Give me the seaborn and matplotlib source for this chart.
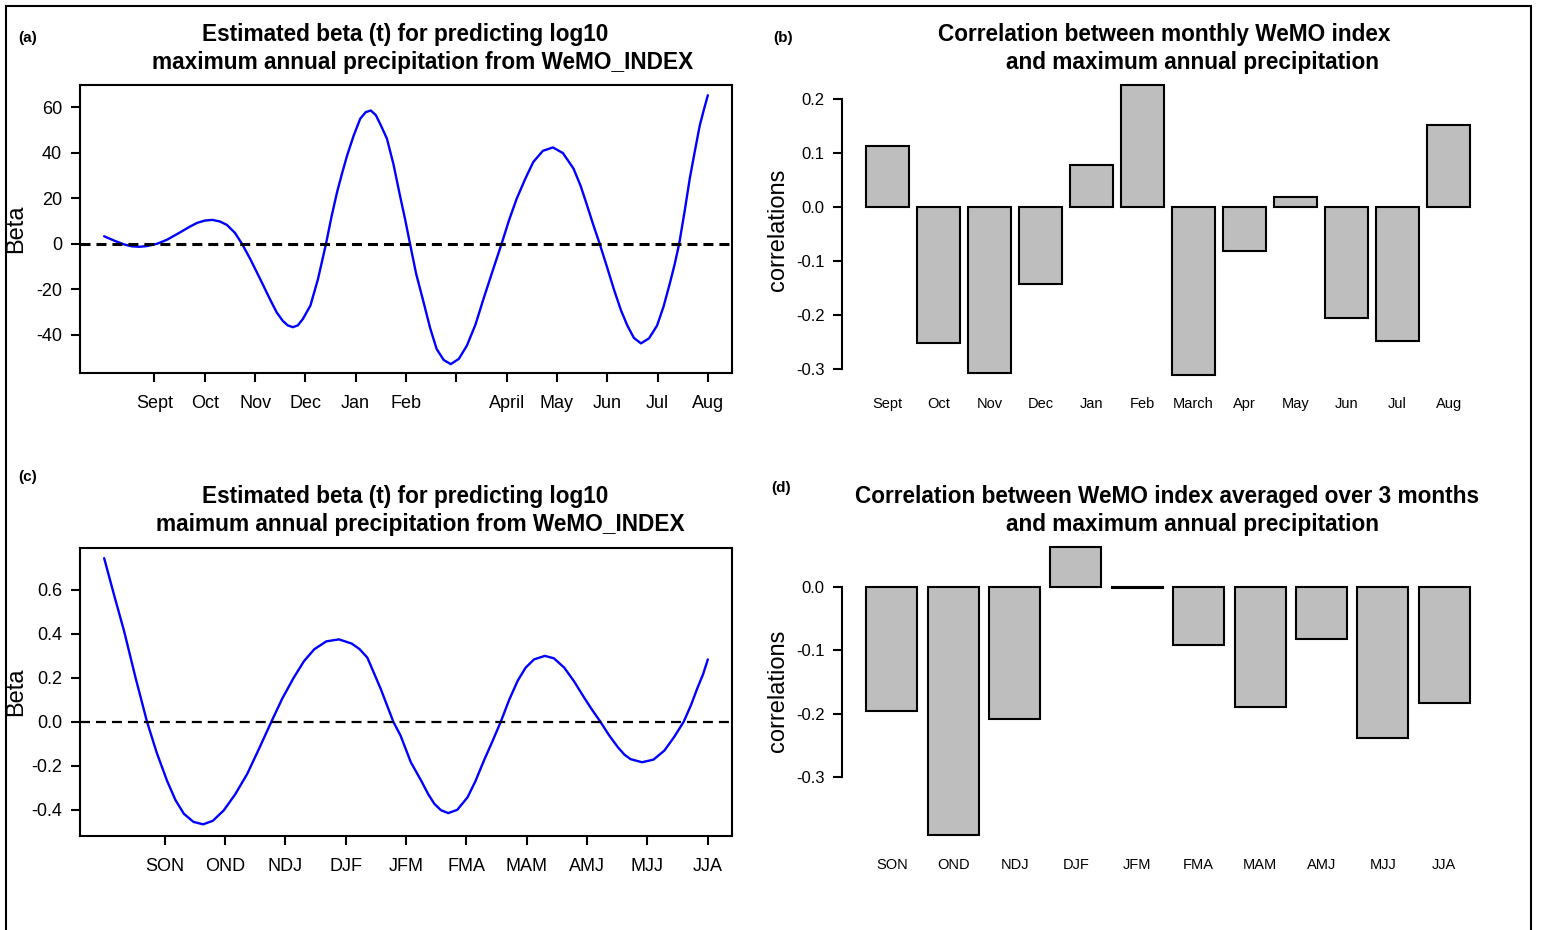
import seaborn as sns
import matplotlib.pyplot as plt
from matplotlib.patches import Rectangle

# --- data ---
# (a) estimated beta(t), monthly index (x: 0 = start, 1 = Sept ... 12 = Aug)
beta_month_x = [0.0, 0.2, 0.4, 0.55, 0.7, 0.85, 1.05, 1.25, 1.5, 1.7, 1.85, 2.0,
                2.15, 2.3, 2.44, 2.6, 2.74,
                2.9, 3.1, 3.3, 3.43, 3.55, 3.65, 3.75, 3.85, 3.95, 4.1, 4.25, 4.41,
                4.52, 4.63, 4.73, 4.83, 4.96, 5.09, 5.2, 5.3, 5.4, 5.5, 5.62, 5.75,
                5.88, 5.98, 6.08,
                6.2, 6.35, 6.48, 6.61, 6.75, 6.89, 7.05, 7.21, 7.38, 7.54, 7.72, 7.9,
                8.05, 8.2, 8.37, 8.53, 8.72, 8.92, 9.12, 9.33, 9.47, 9.6, 9.72, 9.85,
                10.0, 10.13, 10.27, 10.4, 10.53, 10.67, 10.83, 10.99, 11.12, 11.25,
                11.34, 11.43, 11.54, 11.64, 11.74, 11.84, 11.92, 12.0]
beta_month = [3.3, 1.4, -0.3, -1.1, -1.3, -1.0, 0.0, 1.8, 4.9, 7.5, 9.2, 10.2,
              10.5, 9.8, 8.3, 4.8, 0.0,
              -6.5, -15.4, -24.5, -30.1, -33.8, -35.8, -36.6, -35.8, -33.0, -27.1,
              -15.5, 0.0,
              12.0, 22.7, 31.0, 38.8, 47.5, 54.9, 57.8, 58.5, 56.5, 52.0, 46.2, 35.0,
              21.2, 11.0, 0.0,
              -13.0, -25.7, -37.0, -46.2, -51.0, -52.8, -50.5, -44.7, -35.5, -24.2,
              -12.0, 0.0,
              10.5, 19.8, 28.5, 35.9, 40.8, 42.3, 39.8, 33.0, 25.5, 16.8, 8.5, 0.0,
              -10.5, -19.8, -29.0, -35.9, -41.3, -43.7, -41.5, -35.9, -27.5, -16.9,
              -9.0, 0.0, 14.5, 28.6, 40.5, 52.0, 58.8, 65.2]
month_ticks = ['Sept', 'Oct', 'Nov', 'Dec', 'Jan', 'Feb', '', 'April',
               'May', 'Jun', 'Jul', 'Aug']

# (b) monthly correlations
months_b = ['Sept', 'Oct', 'Nov', 'Dec', 'Jan', 'Feb', 'March', 'Apr',
            'May', 'Jun', 'Jul', 'Aug']
corr_month = [0.113, -0.252, -0.307, -0.143, 0.077, 0.225, -0.310, -0.082,
              0.019, -0.205, -0.248, 0.152]

# (c) estimated beta(t), 3-month averaged index (x: 1 = SON ... 10 = JJA)
beta_season_x = [0.0, 0.16, 0.33, 0.52, 0.71, 0.87, 1.04, 1.18, 1.32, 1.48, 1.64,
                 1.8, 1.98, 2.17, 2.37, 2.57, 2.77, 2.95, 3.14, 3.31, 3.48, 3.68,
                 3.89, 4.1, 4.23, 4.36, 4.58, 4.79, 4.91, 5.08, 5.25, 5.37, 5.47,
                 5.58, 5.7, 5.85, 6.02, 6.15, 6.29, 6.43, 6.57, 6.71, 6.85, 6.98,
                 7.12, 7.3, 7.45, 7.62, 7.78, 7.95, 8.08, 8.22, 8.36, 8.51, 8.62,
                 8.72, 8.91, 9.1, 9.28, 9.44, 9.6, 9.72, 9.83, 9.92, 10.0]
beta_season = [0.743, 0.58, 0.412, 0.2, 0.0, -0.14, -0.267, -0.355, -0.418, -0.455,
               -0.466, -0.45, -0.403, -0.33, -0.237, -0.12, 0.0, 0.105, 0.2, 0.275,
               0.329, 0.365, 0.374, 0.355, 0.33, 0.291, 0.15, 0.0, -0.063, -0.184,
               -0.267, -0.33, -0.373, -0.402, -0.415, -0.4, -0.343, -0.27, -0.177,
               -0.09, 0.0, 0.1, 0.186, 0.245, 0.283, 0.299, 0.288, 0.246, 0.185,
               0.11, 0.055, 0.0, -0.06, -0.116, -0.15, -0.17, -0.184, -0.172,
               -0.131, -0.07, 0.0, 0.075, 0.155, 0.215, 0.283]
seasons = ['SON', 'OND', 'NDJ', 'DJF', 'JFM', 'FMA', 'MAM', 'AMJ', 'MJJ', 'JJA']

# (d) 3-month correlations
corr_season = [-0.196, -0.392, -0.209, 0.063, -0.002, -0.091, -0.189, -0.082,
               -0.238, -0.184]

# --- style ---
sns.set_theme(style='ticks')
plt.rcParams.update({
    'font.family': ['Liberation Sans', 'DejaVu Sans'],
    'axes.unicode_minus': False,
    'axes.edgecolor': 'black',
    'axes.linewidth': 1.5,
    'xtick.color': 'black', 'ytick.color': 'black',
    'xtick.major.width': 1.5, 'ytick.major.width': 1.5,
    'xtick.major.size': 6.5, 'ytick.major.size': 6.5,
    'text.color': 'black', 'axes.labelcolor': 'black',
    'figure.facecolor': 'white', 'axes.facecolor': 'white',
})

W, H = 1541, 930
fig = plt.figure(figsize=(W / 100, H / 100), dpi=100)


def add_ax(l, t, r, b):
    return fig.add_axes([l / W, 1 - b / H, (r - l) / W, (b - t) / H])


def title(x, y, s, **kw):
    fig.text(x / W, 1 - y / H, s, ha='center', va='center', **kw)


def curve_panel(ax, x, y, ticks, labels, xlim, ylim, yticks, yfmt, dash_lw):
    sns.lineplot(x=x, y=y, ax=ax, color='#0000FF', lw=1.7, errorbar=None)
    ax.axhline(0, color='black', lw=dash_lw, ls=(0, (7.2 / dash_lw, 4.3 / dash_lw)))
    ax.set_xlim(*xlim)
    ax.set_ylim(*ylim)
    ax.set_xticks(ticks)
    ax.set_xticklabels(labels)
    ax.set_yticks(yticks)
    ax.set_yticklabels([yfmt.format(v) for v in yticks])
    ax.tick_params(axis='x', labelsize=13, pad=9.5)
    ax.tick_params(axis='y', labelsize=13, pad=6.5)
    ax.set_ylabel('Beta', fontsize=17)
    ax.yaxis.set_label_coords(-0.098, 0.5)
    ax.yaxis.label.set_va('center')


def bar_panel(ax, cats, vals, xlim, ylim, yticks, pad):
    sns.barplot(x=cats, y=vals, order=cats, ax=ax, color='#BEBEBE', saturation=1,
                edgecolor='black', linewidth=1.5, width=0.8333)
    for s in ['top', 'right', 'bottom']:
        ax.spines[s].set_visible(False)
    ax.spines['left'].set_bounds(min(yticks), max(yticks))
    ax.set_xlim(*xlim)
    ax.set_ylim(*ylim)
    ax.set_yticks(yticks)
    ax.set_yticklabels(['{:.1f}'.format(v) for v in yticks])
    ax.tick_params(axis='x', length=0, labelsize=10.5, pad=pad)
    ax.tick_params(axis='y', labelsize=12, pad=6)
    ax.set_xlabel('')
    ax.set_ylabel('correlations', fontsize=17)
    ax.yaxis.set_label_coords(-0.098, 0.5)
    ax.yaxis.label.set_va('center')


# (a)
ax_a = add_ax(80, 85, 732, 373)
curve_panel(ax_a, beta_month_x, beta_month, list(range(1, 13)), month_ticks,
            (-0.48, 12.48), (-56.7, 69.7), [-40, -20, 0, 20, 40, 60], '{:.0f}', 2.2)

# (b)
ax_b = add_ax(842, 73.5, 1494, 385.6)
bar_panel(ax_b, months_b, corr_month, (-0.89, 11.89), (-0.330, 0.247),
          [-0.3, -0.2, -0.1, 0.0, 0.1, 0.2], 8)

# (c)
ax_c = add_ax(80, 548, 732, 836)
curve_panel(ax_c, beta_season_x, beta_season, list(range(1, 11)), seasons,
            (-0.4, 10.4), (-0.519, 0.789), [-0.4, -0.2, 0.0, 0.2, 0.4, 0.6], '{:.1f}', 1.6)

# (d)
ax_d = add_ax(842, 535.7, 1494, 846.5)
bar_panel(ax_d, seasons, corr_season, (-0.81, 9.81), (-0.41, 0.081),
          [-0.3, -0.2, -0.1, 0.0], 8.5)

# titles and panel labels
tkw = dict(fontsize=16.3, fontweight='bold')
title(405, 34, 'Estimated beta (t) for predicting log10', **tkw)
title(423, 62, 'maximum annual precipitation from WeMO_INDEX', **tkw)
title(1164, 34, 'Correlation between monthly WeMO index', **tkw)
title(1192, 62, 'and maximum annual precipitation', **tkw)
title(405, 496, 'Estimated beta (t) for predicting log10', **tkw)
title(420, 524, 'maimum annual precipitation from WeMO_INDEX', **tkw)
title(1167, 496, 'Correlation between WeMO index averaged over 3 months', **tkw)
title(1192, 524, 'and maximum annual precipitation', **tkw)

lkw = dict(fontsize=11, fontweight='bold')
title(28, 38, '(a)', **lkw)
title(783, 38, '(b)', **lkw)
title(28, 477, '(c)', **lkw)
title(781, 488, '(d)', **lkw)

# outer frame
fig.add_artist(Rectangle((6 / W, 1 - 945 / H), 1525 / W, 939 / H,
                         transform=fig.transFigure, fill=False, lw=1.5,
                         edgecolor='black', clip_on=False))

fig.savefig('out.png', dpi=100)
